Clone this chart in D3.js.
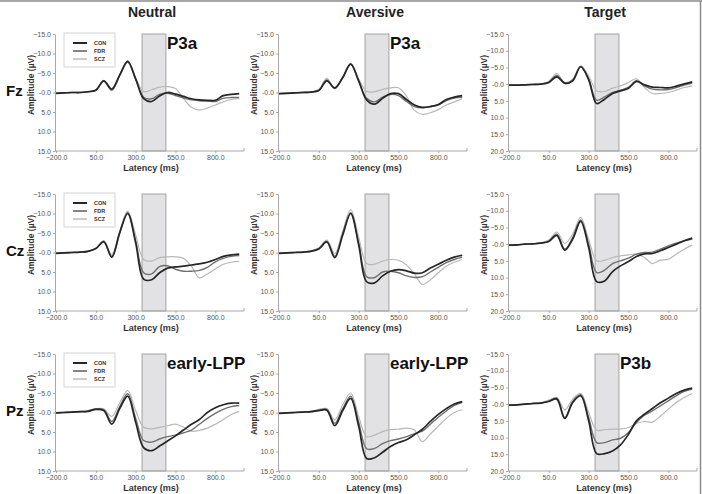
<!DOCTYPE html>
<meta charset="utf-8">
<style>
body { margin: 0; background: #fff; }
text { font-family: Arial, "Liberation Sans", sans-serif; }
.axis path, .axis line { stroke: #a8a8a8; }
.axis text { fill: #555; font-size: 7px; }
</style>
<svg width="702" height="494"></svg>
<script src="https://d3js.org/d3.v7.min.js"></script>
<script>

// ---- data (µV, negative up), sampled every 50 ms ----
var times = [-200,-150,-100,-50,0,50,100,150,200,250,300,350,400,450,500,550,600,650,700,750,800,850,900,950];

var conditions = ["Neutral", "Aversive", "Target"];
var electrodes = ["Fz", "Cz", "Pz"];
var groups = ["CON", "FDR", "SCZ"];
var components = [["P3a", "P3a", ""], ["", "", ""], ["early-LPP", "early-LPP", "P3b"]];

var xTicks = [-200, 50, 300, 550, 800];
var yTicksStd = [-15, -10, -5, 0, 5, 10, 15];
var yTicksTarget = [-15, -10, -5, 0, 5, 10, 15, 20];
var window_ms = [340, 490];

// Neutral Fz
var neutralFz_CON = [0.2,0.1,0.0,0.0,-0.2,-0.6,-3.0,-0.9,-4.5,-8.0,-3.5,1.6,2.3,0.9,0.0,0.4,1.0,1.6,1.9,2.0,2.0,0.8,0.5,0.3];
var neutralFz_FDR = [0.2,0.1,0.0,0.0,-0.2,-0.6,-2.9,-0.6,-4.3,-7.8,-3.4,1.2,1.6,0.5,0.2,0.8,1.4,1.9,2.1,2.2,2.3,1.5,1.3,1.3];
var neutralFz_SCZ = [0.2,0.1,0.0,0.0,-0.2,-0.6,-3.1,-0.5,-4.4,-8.1,-3.8,-0.2,-0.7,-1.4,-1.5,-1.0,1.5,3.8,4.5,4.0,3.2,2.4,1.8,1.6];
// Aversive Fz
var aversiveFz_CON = [0.3,0.2,0.1,0.0,-0.1,-0.5,-3.0,-1.2,-3.8,-7.3,-3.0,1.9,3.0,1.5,0.3,0.3,1.8,3.2,3.8,3.6,3.1,1.8,1.2,0.8];
var aversiveFz_FDR = [0.3,0.2,0.1,0.0,-0.1,-0.6,-3.2,-1.0,-3.9,-7.3,-3.0,1.5,2.4,1.2,0.5,0.8,2.3,3.6,3.9,3.6,3.2,2.1,1.4,1.2];
var aversiveFz_SCZ = [0.3,0.2,0.0,-0.1,-0.2,-0.8,-3.6,-1.0,-4.0,-7.5,-3.5,-0.3,-0.2,-0.8,-1.2,-1.2,0.9,4.6,5.6,5.2,4.4,3.2,2.4,1.6];
// Target Fz
var targetFz_CON = [0.3,0.3,0.2,0.1,0.0,-0.5,-2.2,-0.3,-1.0,-5.2,-1.3,5.8,4.5,2.8,2.0,1.2,-0.8,0.2,0.9,1.0,1.1,0.6,-0.1,-0.7];
var targetFz_FDR = [0.3,0.3,0.2,0.1,0.0,-0.6,-2.6,-0.2,-1.3,-5.3,-1.6,4.8,3.8,2.5,1.8,0.9,-1.0,0.5,1.5,1.7,1.6,1.0,0.3,-0.3];
var targetFz_SCZ = [0.3,0.3,0.2,0.0,-0.1,-0.8,-3.2,-0.5,-1.5,-5.5,-2.5,2.0,2.2,1.2,0.5,-0.5,-1.6,1.0,2.8,2.8,2.5,1.8,1.0,0.5];
// Neutral Cz
var neutralCz_CON = [0.2,0.1,0.0,-0.1,-0.3,-1.0,-2.7,1.2,-5.0,-10.0,-2.5,6.8,7.0,5.2,4.0,3.7,3.5,3.2,2.9,2.5,1.8,1.0,0.6,0.4];
var neutralCz_FDR = [0.2,0.1,0.0,-0.1,-0.3,-1.0,-2.9,1.0,-5.2,-10.2,-3.0,5.2,5.5,3.6,3.4,4.3,4.8,4.8,4.6,3.8,2.4,1.5,1.0,0.8];
var neutralCz_SCZ = [0.2,0.1,0.0,-0.1,-0.3,-1.1,-3.0,0.5,-5.5,-10.6,-4.5,1.8,2.2,1.3,1.1,1.1,1.5,3.5,6.5,5.5,4.2,3.0,2.5,2.3];
// Aversive Cz
var aversiveCz_CON = [0.2,0.1,0.0,-0.1,-0.3,-0.9,-2.7,1.3,-4.5,-10.0,-2.0,7.5,7.8,6.0,4.8,4.4,4.7,5.3,5.2,4.0,3.0,2.0,1.2,0.7];
var aversiveCz_FDR = [0.2,0.1,0.0,-0.1,-0.3,-1.0,-2.9,1.0,-4.8,-10.2,-2.5,6.2,6.4,5.0,4.8,5.2,6.0,6.4,6.2,5.0,3.8,2.6,1.8,1.2];
var aversiveCz_SCZ = [0.2,0.1,0.0,-0.1,-0.4,-1.2,-3.2,0.3,-5.5,-11.0,-4.0,2.8,3.0,2.2,1.8,2.0,3.2,5.5,8.2,7.0,5.2,3.5,2.5,1.8];
// Target Cz
var targetCz_CON = [0.3,0.2,0.0,-0.1,-0.3,-0.8,-2.6,1.8,-1.5,-6.8,1.0,11.2,11.0,8.2,6.5,5.2,3.7,2.9,2.8,2.0,1.0,0.0,-1.0,-1.8];
var targetCz_FDR = [0.3,0.2,0.0,-0.1,-0.3,-0.9,-3.0,1.5,-2.0,-7.2,0.0,8.5,7.8,5.8,5.0,4.2,3.0,2.5,2.4,1.5,0.5,-0.3,-1.0,-1.5];
var targetCz_SCZ = [0.3,0.2,0.0,-0.1,-0.4,-1.2,-3.6,-0.2,-3.0,-8.0,-1.5,5.0,4.8,4.0,3.5,3.2,3.0,4.0,5.8,4.8,4.5,3.0,1.5,0.3];
// Neutral Pz
var neutralPz_CON = [0.1,0.0,-0.1,-0.2,-0.3,-0.8,-0.5,3.0,-1.0,-4.2,2.5,9.0,9.8,8.6,7.3,6.0,4.5,3.0,1.8,0.0,-1.2,-2.0,-2.4,-2.4];
var neutralPz_FDR = [0.1,0.0,-0.1,-0.2,-0.3,-0.9,-0.7,2.3,-1.5,-4.8,1.5,7.2,7.6,6.8,6.2,5.8,5.2,4.5,3.0,1.5,0.2,-0.8,-1.5,-1.8];
var neutralPz_SCZ = [0.1,0.0,-0.1,-0.3,-0.5,-1.0,-0.9,1.0,-2.5,-5.6,-0.5,3.8,4.2,3.8,3.4,3.0,3.8,4.8,4.6,4.0,3.0,1.8,0.5,-0.3];
// Aversive Pz
var aversivePz_CON = [0.2,0.1,0.0,-0.1,-0.2,-0.5,-0.6,3.4,-0.5,-3.6,3.5,11.8,11.6,10.2,8.7,7.7,7.0,5.7,4.3,2.3,0.5,-1.0,-2.2,-2.8];
var aversivePz_FDR = [0.2,0.1,0.0,-0.1,-0.2,-0.6,-0.8,2.8,-1.0,-4.2,2.5,9.3,9.2,8.0,7.2,6.8,6.2,5.4,4.8,3.0,1.2,-0.4,-1.8,-2.6];
var aversivePz_SCZ = [0.2,0.1,0.0,-0.2,-0.3,-0.8,-1.0,1.9,-2.0,-5.0,1.0,6.2,5.8,4.9,4.4,4.3,4.0,4.5,7.5,5.5,3.5,1.5,0.0,-0.7];
// Target Pz
var targetPz_CON = [0.3,0.2,0.0,-0.2,-0.3,-0.8,-1.5,4.3,-0.5,-2.5,5.0,14.8,14.8,14.0,12.2,9.0,5.0,3.0,1.3,-0.4,-1.8,-3.2,-4.2,-4.8];
var targetPz_FDR = [0.3,0.2,0.0,-0.2,-0.3,-0.9,-1.8,4.0,-0.8,-2.8,4.0,11.5,11.5,10.7,10.2,8.5,5.5,3.3,2.0,0.5,-1.0,-2.5,-3.8,-4.5];
var targetPz_SCZ = [0.3,0.2,0.0,-0.3,-0.5,-1.2,-2.0,1.7,-1.5,-3.2,2.5,7.8,7.6,7.5,7.4,7.0,5.8,5.2,5.4,3.6,1.5,-0.5,-2.0,-3.2];

var panels = [
  [[neutralFz_CON, neutralFz_FDR, neutralFz_SCZ], [aversiveFz_CON, aversiveFz_FDR, aversiveFz_SCZ], [targetFz_CON, targetFz_FDR, targetFz_SCZ]],
  [[neutralCz_CON, neutralCz_FDR, neutralCz_SCZ], [aversiveCz_CON, aversiveCz_FDR, aversiveCz_SCZ], [targetCz_CON, targetCz_FDR, targetCz_SCZ]],
  [[neutralPz_CON, neutralPz_FDR, neutralPz_SCZ], [aversivePz_CON, aversivePz_FDR, aversivePz_SCZ], [targetPz_CON, targetPz_FDR, targetPz_SCZ]]
];

// ---- layout ----
var svg = d3.select("svg");
var colX = [55, 278, 508],
    rowY = [34, 194, 354],
    plotW = 189,
    plotH = 117;

var lineColor = {CON: "#262626", FDR: "#6f6f6f", SCZ: "#b8b8b8"};
var lineWidth = {CON: 1.7, FDR: 1.4, SCZ: 1.2};

// frame
svg.append("line").attr("x1", 0).attr("x2", 702).attr("y1", 1).attr("y2", 1)
   .attr("stroke", "#8a8a8a").attr("stroke-width", 1.5);
svg.append("line").attr("x1", 700.5).attr("x2", 700.5).attr("y1", 1).attr("y2", 494)
   .attr("stroke", "#8a8a8a").attr("stroke-width", 1.5);

// column titles
conditions.forEach(function(c, i) {
  svg.append("text")
     .attr("x", colX[i] + 97).attr("y", 17)
     .attr("text-anchor", "middle")
     .attr("font-size", "14px").attr("font-weight", "bold").attr("fill", "#222")
     .text(c);
});

// row labels
electrodes.forEach(function(e, j) {
  svg.append("text")
     .attr("x", 6).attr("y", rowY[j] + 62)
     .attr("font-size", "15px").attr("font-weight", "bold").attr("fill", "#111")
     .text(e);
});

var fmt = d3.format(".1f");

electrodes.forEach(function(e, j) {
  conditions.forEach(function(c, i) {
    var x0 = colX[i], y0 = rowY[j];
    var isTarget = (c == "Target");
    var yTicks = isTarget ? yTicksTarget : yTicksStd;

    var x = d3.scaleLinear().domain([-200, 980]).range([x0 + 1, x0 + plotW]);
    var y = d3.scaleLinear().domain([yTicks[0], yTicks[yTicks.length - 1]]).range([y0, y0 + plotH]);

    var g = svg.append("g");

    // analysis window
    g.append("rect")
     .attr("x", x(window_ms[0])).attr("y", y0)
     .attr("width", x(window_ms[1]) - x(window_ms[0]))
     .attr("height", plotH)
     .attr("fill", "#e2e2e4").attr("stroke", "#9a9a9a").attr("stroke-width", 0.9);

    // axes
    g.append("g").attr("class", "axis")
     .attr("transform", "translate(" + x0 + ",0)")
     .call(d3.axisLeft(y).tickValues(yTicks).tickSize(2).tickSizeOuter(0)
            .tickFormat(function(d) { return d == 0 ? "-0.0" : fmt(d); }))
     .call(function(a) { a.selectAll("text").attr("dx", "1px"); });

    g.append("g").attr("class", "axis")
     .attr("transform", "translate(0," + (y0 + plotH) + ")")
     .call(d3.axisBottom(x).tickValues(xTicks).tickSize(2).tickSizeOuter(3).tickFormat(fmt))
     .call(function(a) {
        a.select(".domain").attr("d", "M" + x0 + ",0H" + (x0 + plotW) + "V-3");
        a.selectAll("text").attr("dy", "0.55em");
     });

    // axis titles
    g.append("text")
     .attr("transform", "translate(" + (x0 - 21) + "," + (y0 + 51) + ") rotate(-90)")
     .attr("text-anchor", "middle")
     .attr("font-size", "8.5px").attr("font-weight", "bold").attr("fill", "#333")
     .text("Amplitude (µV)");

    g.append("text")
     .attr("x", x0 + 96).attr("y", y0 + plotH + 19.5)
     .attr("text-anchor", "middle")
     .attr("font-size", "9px").attr("font-weight", "bold").attr("fill", "#333")
     .text("Latency (ms)");

    // waveforms (SCZ, FDR underneath, CON on top)
    var line = d3.line()
      .x(function(d, k) { return x(times[k]); })
      .y(function(d) { return y(d); })
      .curve(d3.curveCatmullRom.alpha(0.5));

    [2, 1, 0].forEach(function(k) {
      g.append("path")
       .datum(panels[j][i][k])
       .attr("d", line)
       .attr("fill", "none")
       .attr("stroke", lineColor[groups[k]])
       .attr("stroke-width", lineWidth[groups[k]])
       .attr("stroke-linejoin", "round");
    });

    // component label
    if (components[j][i] != "") {
      g.append("text")
       .attr("x", x(window_ms[1]) + 1).attr("y", y0 + 14.5)
       .attr("font-size", "17px").attr("font-weight", "bold").attr("fill", "#111")
       .text(components[j][i]);
    }

    // legend on neutral panels
    if (i == 0) {
      var lg = g.append("g").attr("transform", "translate(" + (x0 + 9) + "," + (y0 - 1) + ")");
      lg.append("rect").attr("width", 51).attr("height", 34)
        .attr("fill", "#fff").attr("stroke", "#c8c8c8").attr("stroke-width", 0.8);
      groups.forEach(function(gr, k) {
        var ly = 10 + k * 8;
        lg.append("line").attr("x1", 9).attr("x2", 23).attr("y1", ly).attr("y2", ly)
          .attr("stroke", lineColor[gr]).attr("stroke-width", lineWidth[gr] + 0.3);
        lg.append("text").attr("x", 30).attr("y", ly + 2)
          .attr("font-size", "5.5px").attr("font-weight", "bold").attr("fill", "#333")
          .text(gr);
      });
    }
  });
});

</script>
